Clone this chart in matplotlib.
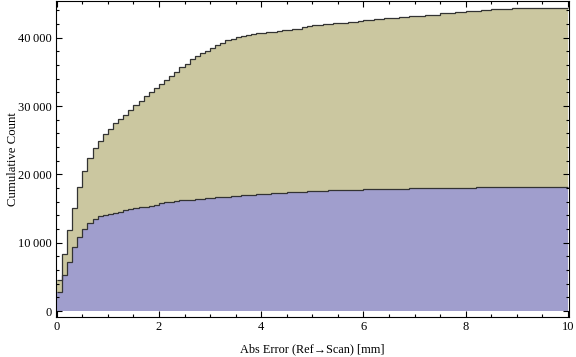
import numpy as np
import matplotlib.pyplot as plt
from matplotlib.ticker import FuncFormatter, MultipleLocator

plt.rcParams['font.family'] = ['Liberation Serif', 'DejaVu Serif']

# bins of width 0.1 mm, from 0 to 10
edges = np.round(np.arange(0, 10.01, 0.1), 2)

# cumulative counts, all points (tan)
all_counts = [
    4500, 8400, 11800, 15100, 18100, 20500, 22400, 23850, 24900, 25900,
    26700, 27500, 28100, 28700, 29400, 30150, 30800, 31400, 32050, 32650,
    33250, 33800, 34400, 34950, 35650, 36150, 36850, 37350, 37750, 38100,
    38500, 38900, 39250, 39650, 39800, 40050, 40200, 40350, 40500, 40650,
    40750, 40850, 40850, 41000, 41100, 41200, 41350, 41350, 41500, 41650,
    41800, 41800, 41950, 41950, 42100, 42200, 42200, 42350, 42350, 42500,
    42600, 42600, 42750, 42750, 42900, 42900, 42900, 43000, 43000, 43150,
    43150, 43150, 43350, 43350, 43350, 43550, 43550, 43550, 43700, 43700,
    43850, 43850, 43850, 44050, 44050, 44150, 44150, 44150, 44150, 44350,
    44350, 44350, 44350, 44350, 44350, 44350, 44350, 44350, 44350, 44350,
]

# cumulative counts, second set (blue)
sub_counts = [
    2800, 5250, 7200, 9300, 10800, 12050, 12900, 13400, 13850, 14000,
    14250, 14400, 14550, 14750, 14930, 15140, 15280, 15280, 15400, 15570,
    15750, 15900, 15900, 16050, 16180, 16250, 16300, 16450, 16450, 16600,
    16600, 16740, 16740, 16740, 16890, 16890, 17040, 17040, 17040, 17180,
    17180, 17180, 17330, 17330, 17330, 17470, 17470, 17470, 17470, 17620,
    17620, 17620, 17620, 17770, 17770, 17770, 17770, 17770, 17770, 17770,
    17860, 17860, 17860, 17860, 17860, 17860, 17860, 17860, 17860, 18000,
    18000, 18000, 18000, 18000, 18000, 18000, 18000, 18000, 18000, 18000,
    18000, 18000, 18150, 18150, 18150, 18150, 18150, 18150, 18150, 18150,
    18150, 18150, 18150, 18150, 18150, 18150, 18150, 18150, 18150, 18150,
]

fig = plt.figure(figsize=(5.76, 3.57), dpi=100)
ax = fig.add_axes([0.0972, 0.112, 0.8906, 0.886])

ax.stairs(all_counts, edges, fill=True, color='#cbc7a0', baseline=0)
ax.stairs(sub_counts, edges, fill=True, color='#a09ecd', baseline=0)
ax.stairs(all_counts, edges, baseline=None, color='#333333', lw=0.9)
ax.stairs(sub_counts, edges, baseline=None, color='#333333', lw=0.9)

ax.set_xlim(-0.015, 10.02)
ax.set_ylim(-880, 45420)

ax.xaxis.set_major_locator(MultipleLocator(2))
ax.xaxis.set_minor_locator(MultipleLocator(0.5))
ax.yaxis.set_major_locator(MultipleLocator(10000))
ax.yaxis.set_minor_locator(MultipleLocator(2000))
ax.yaxis.set_major_formatter(FuncFormatter(
    lambda v, p: f"{int(v):,}".replace(",", "\u2009") if v else "0"))
ax.xaxis.set_major_formatter(FuncFormatter(lambda v, p: f"{int(round(v))}"))

ax.tick_params(which='both', direction='in', top=True, right=True,
               labeltop=False, labelright=False, colors='black',
               labelsize=9, width=0.8)
ax.tick_params(which='major', length=4, pad=3)
ax.tick_params(which='minor', length=2.2)
for s in ax.spines.values():
    s.set_linewidth(0.8)

ax.set_xlabel("Abs Error (Ref\u2192Scan) [mm]", fontsize=8.8)
ax.set_ylabel("Cumulative Count", fontsize=9.2)
ax.xaxis.set_label_coords(0.5, -0.082)
ax.yaxis.set_label_coords(-0.072, 0.5)

fig.savefig("out.png", dpi=100)
